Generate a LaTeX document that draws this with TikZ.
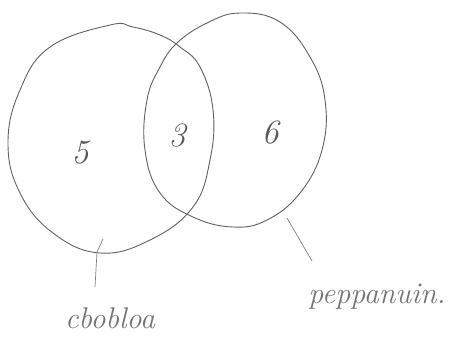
\documentclass[tikz,border=0pt]{standalone}
\begin{document}
\begin{tikzpicture}[x=1pt,y=-1pt,
  pencil/.style={draw=black!62,line width=0.9pt,line cap=round,line join=round},
  num/.style={text=black!65,font=\fontsize{34}{34}\selectfont\itshape},
  lbl/.style={text=black!55,font=\fontsize{30}{30}\selectfont\itshape}]
\useasboundingbox (0,0) rectangle (468,338);
% left set
\draw[pencil] plot[smooth cycle,tension=0.7] coordinates{
 (110,25) (50,47) (20,90) (8,143) (20,193) (53,233) (100,253) (150,240)
 (193,207) (210,160) (213,110) (200,67) (180,47) (160,35) (133,27)};
% right set
\draw[pencil] plot[smooth cycle,tension=0.7] coordinates{
 (177,43) (207,23) (240,13) (280,22) (310,57) (325,100) (322,150) (300,193)
 (267,220) (233,227) (193,217) (160,193) (145,150) (147,100) (160,67)};
% numbers
\node[num] (n5) at (80,153) {5};
\node[num] (n3) at (177,136) {3};
\node[num] (n6) at (270,133) {6};
% leaders
\coordinate (l2) at (95,287);
\coordinate (r1) at (287,218);
\coordinate (r2) at (312,261);
\draw[pencil,draw=black!50,line width=0.7pt] (103,239) -- (97,252) -- (l2);
\draw[pencil,draw=black!50,line width=0.7pt] (r1) -- (r2);
% labels
\node[lbl] (la) at (110,318) {cbobloa};
\node[lbl] (lb) at (377,297) {peppanuin.};
\end{tikzpicture}
\end{document}
